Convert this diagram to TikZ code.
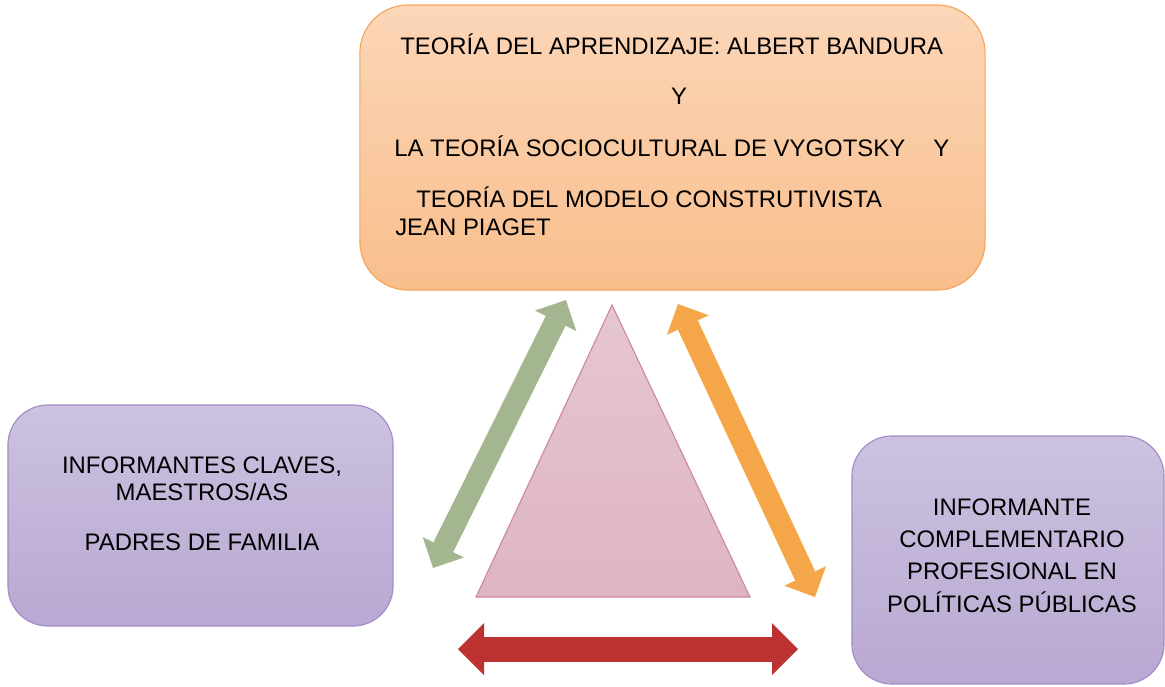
\documentclass[tikz,border=0pt]{standalone}
\usepackage{fontspec}
\setmainfont{Liberation Sans}
\usetikzlibrary{
    arrows.meta,
    positioning
}
\definecolor{teoriatop}{RGB}{251,214,184}
\definecolor{teoriabot}{RGB}{249,190,140}
\definecolor{teorialine}{RGB}{246,165,90}
\definecolor{actortop}{RGB}{204,194,224}
\definecolor{actorbot}{RGB}{185,168,210}
\definecolor{actorline}{RGB}{160,140,200}
\definecolor{triantop}{RGB}{230,198,210}
\definecolor{trianbot}{RGB}{222,180,195}
\definecolor{trianline}{RGB}{205,135,160}
\definecolor{arrgreen}{RGB}{164,182,143}
\definecolor{arrorange}{RGB}{245,166,72}
\definecolor{arrred}{RGB}{188,50,48}

\tikzset{
    teoriabox/.style={draw=teorialine, line width=0.8pt, rounded corners=1.2cm,
        top color=teoriatop, bottom color=teoriabot},
    actorbox/.style={draw=actorline, line width=0.8pt, rounded corners=1cm,
        top color=actortop, bottom color=actorbot},
    boxtext/.style={inner sep=0pt, font=\fontsize{17pt}{20pt}\selectfont},
    flecha/.style={draw=#1, line width=0.55cm,
        {Triangle[width=1.15cm, length=0.58cm, line width=0pt]}-{Triangle[width=1.15cm, length=0.58cm, line width=0pt]}},
    flechaancha/.style={draw=#1, line width=0.625cm,
        {Triangle[width=1.3cm, length=0.65cm, line width=0pt]}-{Triangle[width=1.3cm, length=0.65cm, line width=0pt]}}
}

\begin{document}
\begin{tikzpicture}[x=0.025cm, y=-0.025cm]
    \useasboundingbox (0, 0) rectangle (1165, 686);
    \clip (0, 0) rectangle (1165, 686);

    \node[teoriabox, minimum width=15.625cm, minimum height=7.125cm] (teoria) at (672.5, 147.5) {};
    \node[actorbox, minimum width=9.625cm, minimum height=5.525cm] (claves) at (200.5, 515.5) {};
    \node[actorbox, minimum width=7.8cm, minimum height=6.2cm] (complem) at (1008, 560) {};

    \node[boxtext, anchor=west] (t1) at (400, 44) {TEORÍA DEL APRENDIZAJE: ALBERT BANDURA};
    \node[boxtext] (t2) at (679, 96) {Y};
    \node[boxtext, anchor=west] (t3) at (394, 146) {LA TEORÍA SOCIOCULTURAL DE VYGOTSKY\hspace{0.7cm}Y};
    \node[boxtext, anchor=west] (t4) at (416, 197) {TEORÍA DEL MODELO CONSTRUTIVISTA};
    \node[boxtext, anchor=west] (t5) at (395, 227) {JEAN PIAGET};

    \node[boxtext] (c1) at (202, 467) {INFORMANTES CLAVES,};
    \node[boxtext] (c2) at (202, 492) {MAESTROS/AS};
    \node[boxtext] (c3) at (202, 542) {PADRES DE FAMILIA};

    \node[boxtext] (p1) at (1012, 507) {INFORMANTE};
    \node[boxtext] (p2) at (1012, 539) {COMPLEMENTARIO};
    \node[boxtext] (p3) at (1012, 571) {PROFESIONAL EN};
    \node[boxtext] (p4) at (1012, 602) {POLÍTICAS PÚBLICAS};

    \draw[draw=trianline, line width=0.8pt, top color=triantop, bottom color=trianbot]
        (476, 597) -- (612, 305) -- (750, 597) -- cycle;

    \coordinate (verdeA) at (433, 568);
    \coordinate (verdeB) at (566, 300);
    \coordinate (naranjaA) at (678, 304);
    \coordinate (naranjaB) at (815, 597);
    \coordinate (rojoA) at (458, 649);
    \coordinate (rojoB) at (798, 649);

    \draw[flecha=arrgreen] (verdeA) -- (verdeB);
    \draw[flecha=arrorange] (naranjaA) -- (naranjaB);
    \draw[flechaancha=arrred] (rojoA) -- (rojoB);
\end{tikzpicture}
\end{document}
